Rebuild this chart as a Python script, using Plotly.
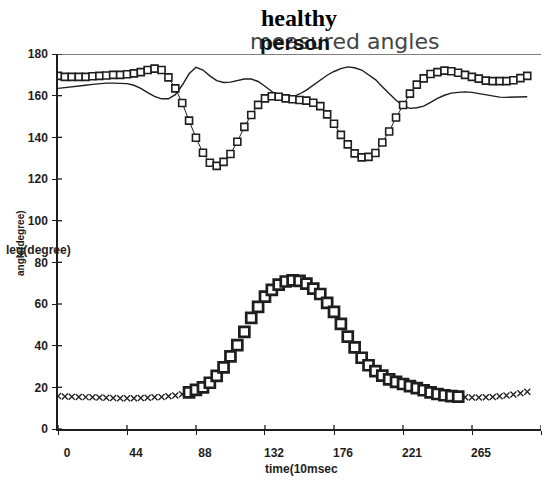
import plotly.graph_objects as go

# Sample times (10 msec units), one sample every ~4.42
time = [0.0, 4.4, 8.8, 13.3, 17.7, 22.1, 26.5, 30.9, 35.3, 39.8,
        44.2, 48.6, 53.0, 57.4, 61.8, 66.3, 70.7, 75.1, 79.5, 83.9,
        88.3, 92.8, 97.2, 101.6, 106.0, 110.4, 114.8, 119.3, 123.7, 128.1,
        132.5, 136.9, 141.3, 145.8, 150.2, 154.6, 159.0, 163.4, 167.9, 172.3,
        176.7, 181.1, 185.5, 189.9, 194.4, 198.8, 203.2, 207.6, 212.0, 216.4,
        220.9, 225.3, 229.7, 234.1, 238.5, 242.9, 247.4, 251.8, 256.2, 260.6,
        265.0, 269.4, 273.9, 278.3, 282.7, 287.1, 291.5, 296.0, 300.4]

# Angle with square markers (upper curve)
knee = [169.5, 169.0, 169.0, 169.0, 169.0, 169.3, 169.5, 169.7, 170.0, 170.0,
        170.3, 170.7, 171.3, 172.3, 173.0, 172.3, 168.8, 163.5, 156.5, 148.0,
        139.8, 132.6, 127.8, 126.3, 128.2, 132.0, 137.9, 145.0, 150.7, 155.6,
        158.7, 159.7, 159.5, 158.7, 158.3, 157.9, 157.6, 156.6, 155.0, 151.0,
        146.5, 141.2, 136.6, 132.3, 130.4, 130.6, 132.5, 137.5, 142.8, 149.5,
        155.5, 161.0, 165.3, 168.3, 170.4, 171.3, 172.0, 171.7, 171.0, 170.0,
        169.0, 168.2, 167.2, 167.0, 167.0, 167.0, 167.4, 168.4, 169.5]

# Angle drawn as a plain line (upper curve)
hip = [163.5, 163.8, 164.2, 164.6, 165.0, 165.4, 165.8, 166.0, 166.0, 166.0,
       165.8, 165.0, 163.5, 161.5, 159.7, 158.5, 158.5, 160.5, 165.0, 170.5,
       173.6, 172.3, 169.5, 167.2, 166.3, 166.5, 167.2, 168.0, 168.0, 166.8,
       164.5, 162.0, 160.2, 159.2, 159.3, 160.8, 162.7, 165.0, 167.3, 169.8,
       171.6, 173.0, 173.8, 173.4, 172.3, 170.2, 167.7, 164.3, 160.8, 157.8,
       155.2, 153.9, 154.2, 155.0, 156.8, 158.7, 160.2, 161.2, 161.6, 161.8,
       161.6, 161.0, 160.3, 159.8, 159.3, 159.2, 159.3, 159.5, 159.5]

# Leg angle (lower curve)
leg = [15.8, 15.6, 15.5, 15.4, 15.3, 15.2, 15.1, 15.0, 14.9, 14.8,
       14.8, 14.8, 14.9, 15.0, 15.2, 15.4, 15.7, 16.1, 16.7, 17.6,
       18.8, 20.0, 22.2, 25.5, 29.6, 34.9, 40.3, 46.6, 53.3, 58.6,
       63.5, 66.8, 69.3, 70.8, 71.3, 71.1, 69.8, 67.4, 64.8, 60.5,
       56.2, 50.5, 44.3, 39.2, 34.2, 30.6, 27.8, 25.6, 23.8, 22.6,
       21.6, 20.6, 19.6, 18.6, 17.6, 16.8, 16.2, 15.8, 15.5, 15.2,
       15.1, 15.1, 15.2, 15.4, 15.7, 16.1, 16.6, 17.2, 17.9]

# Samples of the leg curve that are highlighted with squares
stance_start, stance_end = 19, 58

x_ticks = [0, 44.17, 88.34, 132.51, 176.69, 220.86, 265.03, 309.2]
x_tick_text = ["0", "44", "88", "132", "176", "221", "265", ""]
y_ticks = [0, 20, 40, 60, 80, 100, 120, 140, 160, 180]

INK = "#1e1e1e"
W, H = 545, 482
ML, MR, MT, MB = 58, 4, 54, 53
PLOT_W, PLOT_H = W - ML - MR, H - MT - MB
TICK = 4  # length of each tick arm in pixels


def px(x):
    return (x - ML) / PLOT_W


def py(y):
    return (H - MB - y) / PLOT_H


fig = go.Figure()

fig.add_trace(go.Scatter(
    x=time, y=hip, mode="lines",
    line=dict(color=INK, width=1.4), hoverinfo="skip"))

fig.add_trace(go.Scatter(
    x=time, y=knee, mode="lines+markers",
    line=dict(color=INK, width=1),
    marker=dict(symbol="square", size=7, color="white", line=dict(width=1.6, color=INK)),
    hoverinfo="skip"))

fig.add_trace(go.Scatter(
    x=time, y=leg, mode="markers",
    marker=dict(symbol="x-thin-open", size=6, color=INK, line=dict(width=1.3, color=INK)),
    hoverinfo="skip"))

fig.add_trace(go.Scatter(
    x=time[stance_start:stance_end + 1], y=leg[stance_start:stance_end + 1],
    mode="markers",
    marker=dict(symbol="square", size=10, color="white", line=dict(width=2.7, color=INK)),
    hoverinfo="skip"))

# frame line along the top of the plot
fig.add_shape(type="line", xref="x", yref="y", x0=0, x1=309.2, y0=180, y1=180,
              line=dict(color="#555", width=1.5))

# inner arm of the cross-shaped ticks
for v in y_ticks:
    fig.add_shape(type="line", xref="paper", yref="y", x0=0, x1=TICK / PLOT_W,
                  y0=v, y1=v, line=dict(color=INK, width=1.3))
for v in x_ticks:
    fig.add_shape(type="line", xref="x", yref="paper", x0=v, x1=v,
                  y0=0, y1=TICK / PLOT_H, line=dict(color=INK, width=1.3))

axis_font = dict(family="Liberation Sans, Arial", size=12, color=INK, weight="bold")

fig.update_layout(
    width=W, height=H,
    margin=dict(l=ML, r=MR, t=MT, b=MB),
    paper_bgcolor="white", plot_bgcolor="white",
    showlegend=False,
    xaxis=dict(range=[0, 309.2], tickvals=x_ticks, ticktext=x_tick_text,
               showgrid=False, zeroline=False, showline=True,
               linecolor=INK, linewidth=1.5, ticks="outside", ticklen=TICK,
               tickcolor=INK, tickwidth=1.3, tickfont=axis_font,
               ticklabelshift=9, ticklabelstandoff=8),
    yaxis=dict(range=[0, 180], tickvals=y_ticks,
               showgrid=False, zeroline=False, showline=True,
               linecolor=INK, linewidth=1.5, ticks="outside", ticklen=TICK,
               tickcolor=INK, tickwidth=1.3, tickfont=axis_font,
               ticklabelstandoff=2),
)

annotations = [
    dict(text="healthy", x=px(299), y=py(18),
         font=dict(family="Liberation Serif, Times New Roman", size=24, color="#000", weight="bold")),
    dict(text="measured angles", x=px(344), y=py(42),
         font=dict(family="DejaVu Sans", size=22, color="#444")),
    dict(text="person", x=px(295), y=py(43),
         font=dict(family="Liberation Sans, Arial", size=21, color="#111", weight="bold")),
    dict(text="angle(degree)", x=px(20), y=py(243), textangle=-90,
         font=dict(family="Liberation Sans, Arial", size=10, color=INK, weight="bold")),
    dict(text="leg(degree)", x=px(38), y=py(250),
         font=dict(family="Liberation Sans, Arial", size=12, color=INK, weight="bold")),
    dict(text="time(10msec", x=px(301), y=py(469),
         font=dict(family="Liberation Sans, Arial", size=12, color=INK, weight="bold")),
]
for a in annotations:
    fig.add_annotation(xref="paper", yref="paper", showarrow=False,
                       xanchor="center", yanchor="middle", **a)

fig.write_html("out.html")
